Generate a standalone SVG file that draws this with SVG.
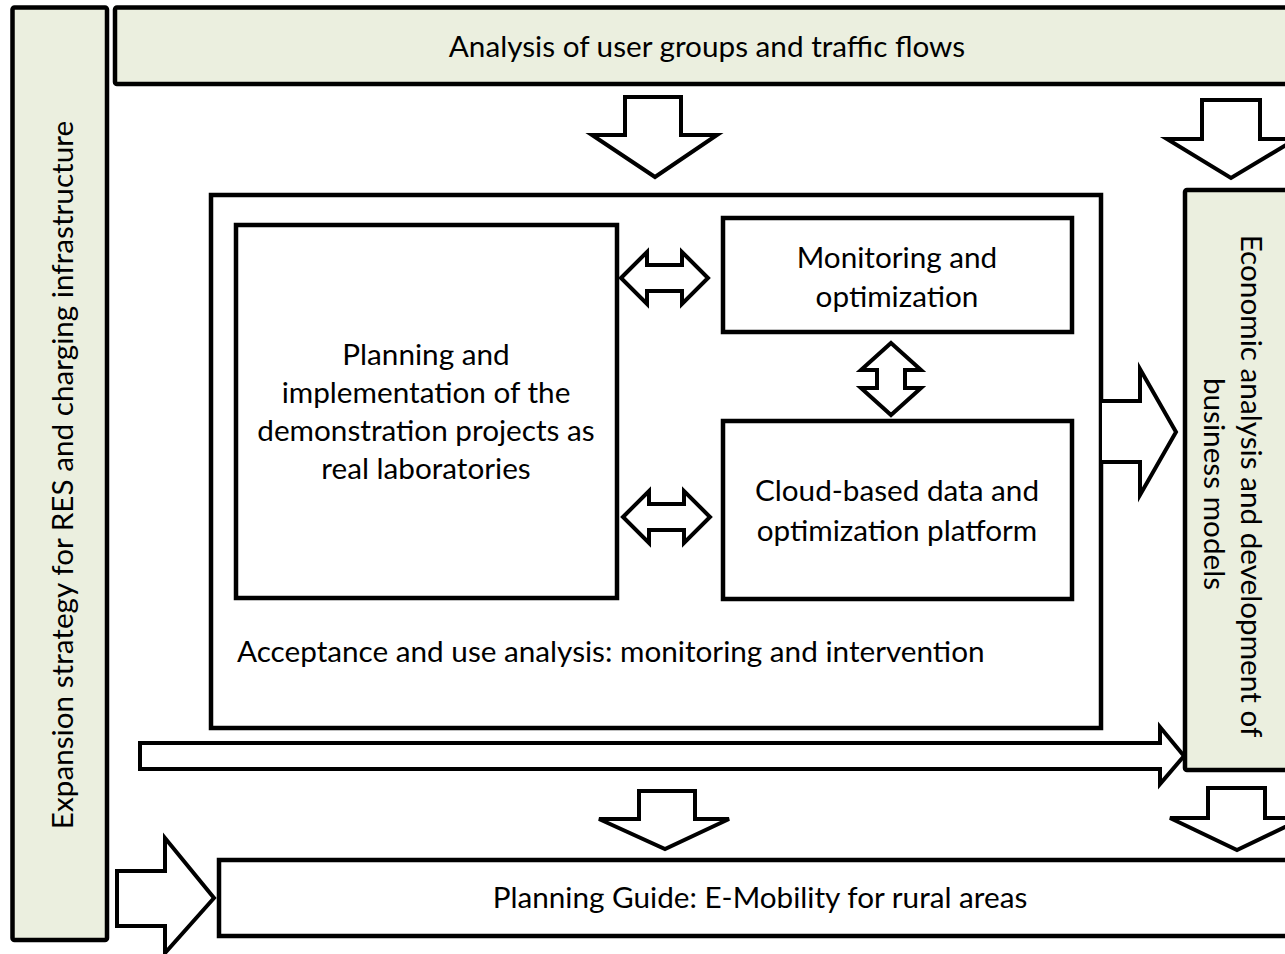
<svg xmlns="http://www.w3.org/2000/svg" width="1285" height="954" viewBox="0 0 1285 954">
<style>
.box{fill:#ffffff;stroke:#000;stroke-width:4.5}
.green{fill:#EBEFDF;stroke:#000;stroke-width:4.5}
.arr{fill:#ffffff;stroke:#000;stroke-width:4;stroke-linejoin:miter}
text{font-family:Lato,"Open Sans","Liberation Sans",sans-serif;font-size:29.7px;fill:#000}
</style>
<rect width="1285" height="954" fill="#fff"/>
<g id="node-expansion">
<rect class="green" x="12.5" y="7.5" width="94.5" height="932.5" rx="2"/>
<text transform="translate(73,475) rotate(-90)" text-anchor="middle">Expansion strategy for RES and charging infrastructure</text>
</g>
<g id="node-analysis">
<rect class="green" x="115" y="7.5" width="1180" height="76.5" rx="2"/>
<text x="707" y="57" text-anchor="middle">Analysis of user groups and traffic flows</text>
</g>
<g id="node-acceptance">
<rect class="box" x="211" y="195" width="890" height="533"/>
<text x="237" y="662">Acceptance and use analysis: monitoring and intervention</text>
</g>
<g id="node-planning">
<rect class="box" x="236" y="225" width="381" height="373"/>
<text text-anchor="middle"><tspan x="426" y="365">Planning and</tspan><tspan x="426" y="403">implementation of the</tspan><tspan x="426" y="441">demonstration projects as</tspan><tspan x="426" y="479">real laboratories</tspan></text>
</g>
<g id="node-monitoring">
<rect class="box" x="723" y="218" width="349" height="114"/>
<text text-anchor="middle"><tspan x="897" y="268">Monitoring and</tspan><tspan x="897" y="307">optimization</tspan></text>
</g>
<g id="node-cloud">
<rect class="box" x="723" y="421" width="349" height="178"/>
<text text-anchor="middle"><tspan x="897" y="501">Cloud-based data and</tspan><tspan x="897" y="541">optimization platform</tspan></text>
</g>
<g id="node-economic">
<rect class="green" x="1185" y="190" width="110" height="580" rx="2"/>
<text transform="translate(1241,486) rotate(90)" text-anchor="middle">Economic analysis and development of</text>
<text transform="translate(1204,484) rotate(90)" text-anchor="middle">business models</text>
</g>
<g id="node-guide">
<rect class="box" x="219" y="860" width="1076" height="76"/>
<text x="760" y="908" text-anchor="middle">Planning Guide: E-Mobility for rural areas</text>
</g>
<g id="connectors">
<path class="arr" d="M625,97 L681,97 L681,135 L717,135 L655,177 L592,135 L625,135 Z"/>
<path class="arr" d="M1202,100 L1260,100 L1260,139 L1296,139 L1231,178 L1167,139 L1202,139 Z"/>
<path class="arr" d="M621,278 L647,252 L647,265 L682,265 L682,252 L708,278 L682,304 L682,291 L647,291 L647,304 Z"/>
<path class="arr" d="M623,517 L649,491 L649,504 L684,504 L684,491 L710,517 L684,543 L684,530 L649,530 L649,543 Z"/>
<path class="arr" d="M891,343 L921,370 L905,370 L905,388 L921,388 L891,415 L861,388 L877,388 L877,370 L861,370 Z"/>
<path class="arr" d="M1102,401 L1140,401 L1140,369 L1176,432 L1140,495 L1140,462 L1102,462"/>
<path class="arr" d="M140,743 L1160,743 L1160,727 L1184,756 L1160,784 L1160,769 L140,769 Z"/>
<path class="arr" d="M639,791 L695,791 L695,819 L729,819 L665,849 L599,819 L639,819 Z"/>
<path class="arr" d="M1208,788 L1265,788 L1265,818 L1304,818 L1237,850 L1170,818 L1208,818 Z"/>
<path class="arr" d="M117,871 L165,871 L165,838 L214,898 L165,953 L165,926 L117,926 Z"/>
</g>
</svg>
